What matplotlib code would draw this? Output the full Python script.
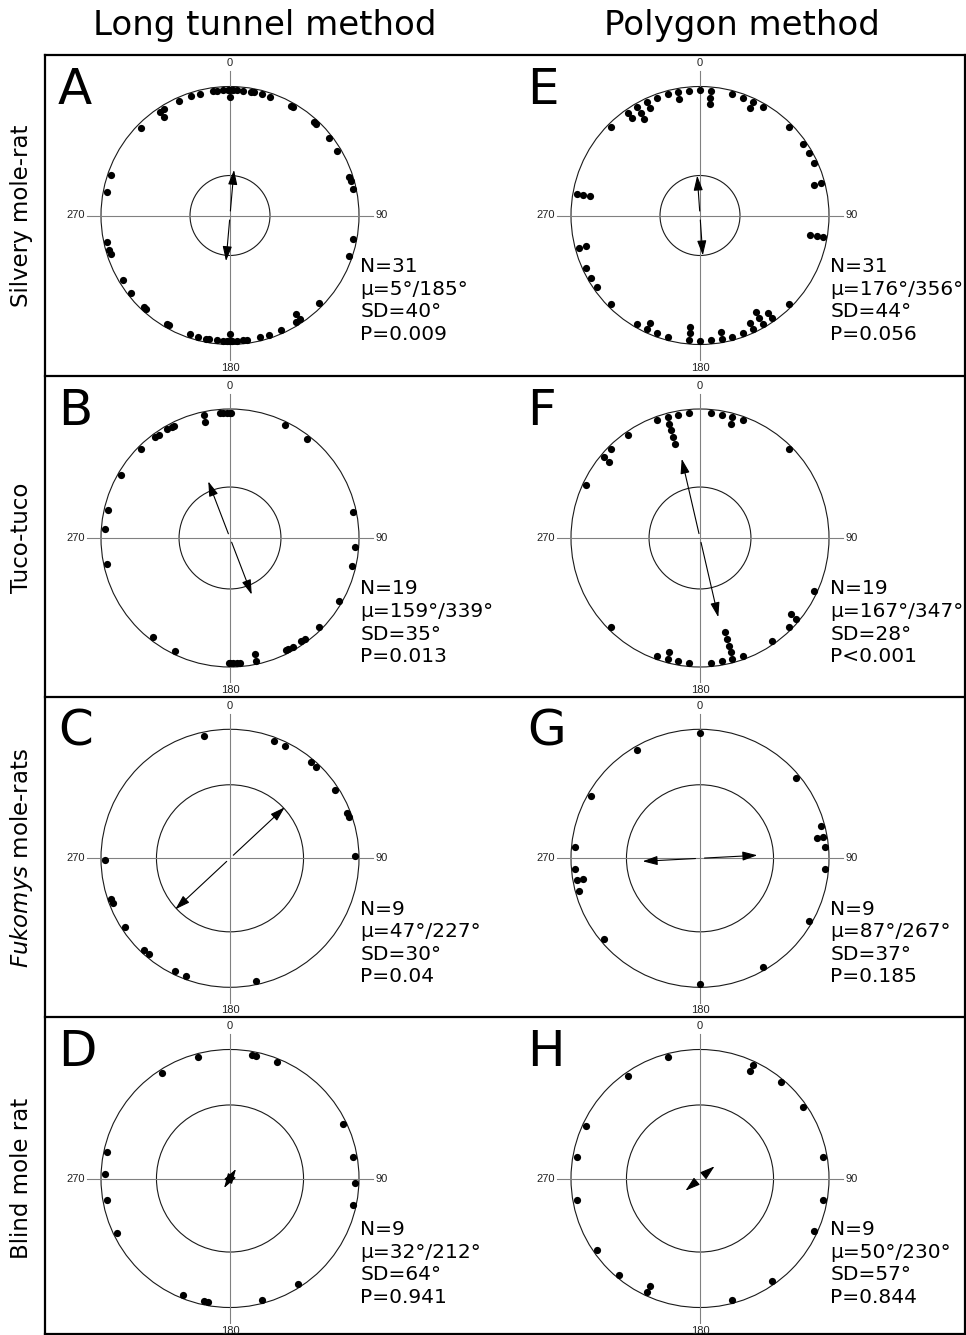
import numpy as np
import matplotlib.pyplot as plt
from matplotlib.patches import Circle, FancyArrowPatch

W, H = 966, 1335

col_titles = ["Long tunnel method", "Polygon method"]
row_labels = ["Silvery mole-rat", "Tuco-tuco", r"$\it{Fukomys}$ mole-rats", "Blind mole rat"]

# axial headings (deg, 0-180); each one is drawn at a and a+180
angles_A = [0, 0, 1.5, 3, 6, 9.5, 11, 15, 18.5, 29, 30, 42, 43, 52, 59, 72, 74, 78,
            101, 109, 134.5, 146, 146, 148, 156, 162, 166, 172, 174, 177, 179]
angles_B = [0.5, 26, 38, 78, 94, 103, 120, 135, 143.5, 145.5, 150, 152.5, 153.5,
            168, 168, 175.5, 177, 178.5, 180]
angles_C = [20.5, 26, 40, 43, 57, 69, 71, 89, 168]
angles_D = [10, 12, 22, 64, 80, 92, 102, 147, 165]
angles_E = [0, 5, 5, 5, 15, 20, 25, 25, 30, 45, 55, 60, 65, 75, 75, 100, 100, 100,
            135, 145, 145, 150, 150, 150, 155, 155, 160, 165, 170, 170, 175]
angles_F = [5, 10, 15, 15, 20, 45, 115, 130, 130, 135, 145, 160, 165, 165, 165, 165,
            165, 170, 175]
angles_G = [0, 50, 75, 80, 80, 85, 95, 120, 150]
angles_H = [25, 25, 40, 55, 80, 100, 115, 145, 165]

mean_axis = {"A": 5, "B": 159, "C": 47, "D": 32, "E": 176, "F": 167, "G": 87, "H": 50}
mean_r = {"A": 0.355, "B": 0.47, "C": 0.58, "D": 0.087, "E": 0.31, "F": 0.63, "G": 0.445, "H": 0.147}
crit_r = {"A": 0.31, "B": 0.395, "C": 0.57, "D": 0.57, "E": 0.31, "F": 0.395, "G": 0.57, "H": 0.57}

stats = {
    "A": ["N=31", "μ=5°/185°", "SD=40°", "P=0.009"],
    "B": ["N=19", "μ=159°/339°", "SD=35°", "P=0.013"],
    "C": ["N=9", "μ=47°/227°", "SD=30°", "P=0.04"],
    "D": ["N=9", "μ=32°/212°", "SD=64°", "P=0.941"],
    "E": ["N=31", "μ=176°/356°", "SD=44°", "P=0.056"],
    "F": ["N=19", "μ=167°/347°", "SD=28°", "P<0.001"],
    "G": ["N=9", "μ=87°/267°", "SD=37°", "P=0.185"],
    "H": ["N=9", "μ=50°/230°", "SD=57°", "P=0.844"],
}
angles = {"A": angles_A, "B": angles_B, "C": angles_C, "D": angles_D,
          "E": angles_E, "F": angles_F, "G": angles_G, "H": angles_H}

# layout (pixels)
R = 129
col_x = [230, 700]
row_y = [215.5, 538, 858.3, 1178.5]
row_lines = [55, 376, 697, 1017, 1334]
letter_x = [58, 527]
grid = [["A", "E"], ["B", "F"], ["C", "G"], ["D", "H"]]

fig = plt.figure(figsize=(W / 100, H / 100), dpi=100)
bg = fig.add_axes([0, 0, 1, 1])
bg.set_xlim(0, W)
bg.set_ylim(H, 0)
bg.axis("off")

# frame
for y in row_lines:
    bg.plot([45, 965], [y, y], color="black", lw=1.6, solid_capstyle="projecting")
bg.plot([45, 45], [55, 1334], color="black", lw=1.6)
bg.plot([965, 965], [55, 1334], color="black", lw=1.6)

bg.text(265, 25, col_titles[0], ha="center", va="center", fontsize=24.5)
bg.text(742, 25, col_titles[1], ha="center", va="center", fontsize=24.5)
for i, lab in enumerate(row_labels):
    bg.text(22, row_y[i], lab, rotation=90, ha="center", va="center", fontsize=16.5)


def draw_panel(ax, key):
    ax.set_xlim(-1.3, 1.3)
    ax.set_ylim(-1.3, 1.3)
    ax.axis("off")
    ax.plot([-1.11, 1.11], [0, 0], color="#808080", lw=0.8)
    ax.plot([0, 0], [-1.12, 1.12], color="#808080", lw=0.8)
    ax.add_patch(Circle((0, 0), 1.0, fill=False, ec="#1a1a1a", lw=0.8))
    ax.add_patch(Circle((0, 0), crit_r[key], fill=False, ec="#1a1a1a", lw=0.8))
    tk = dict(fontsize=8, family="Liberation Sans", color="#222222")
    ax.text(0, 1.14, "0", ha="center", va="bottom", **tk)
    ax.text(0, -1.14, "180", ha="center", va="top", **tk)
    ax.text(1.125, 0, "90", ha="left", va="center", **tk)
    ax.text(-1.125, 0, "270", ha="right", va="center", **tk)

    # dots, stacked inward when headings repeat
    seen = {}
    xs, ys = [], []
    for a in angles[key]:
        k = seen.get(a, 0)
        seen[a] = k + 1
        rad = 0.972 - 0.054 * k
        for t in (a, a + 180):
            th = np.deg2rad(t)
            xs.append(rad * np.sin(th))
            ys.append(rad * np.cos(th))
    ax.scatter(xs, ys, s=27, color="black", linewidths=0, zorder=3)

    # mean axis arrows
    for t in (mean_axis[key], mean_axis[key] + 180):
        th = np.deg2rad(t)
        r0 = 0.035
        arr = FancyArrowPatch((r0 * np.sin(th), r0 * np.cos(th)),
                              (mean_r[key] * np.sin(th), mean_r[key] * np.cos(th)),
                              arrowstyle="-|>,head_length=0.9,head_width=0.28",
                              mutation_scale=10, lw=0.8, color="black",
                              shrinkA=0, shrinkB=0, zorder=4)
        ax.add_patch(arr)

    for j, line in enumerate(stats[key]):
        ax.text(1.01, -0.395 - j * 0.175, line, ha="left", va="center", fontsize=14.5)


L = 1.3 * R
for i in range(4):
    for j in range(2):
        key = grid[i][j]
        cx, cy = col_x[j], row_y[i]
        ax = fig.add_axes([(cx - L) / W, (H - cy - L) / H, 2 * L / W, 2 * L / H])
        draw_panel(ax, key)
        bg.text(letter_x[j], row_lines[i] + 11, key, ha="left", va="top", fontsize=36)

fig.savefig("out.png", dpi=100)
